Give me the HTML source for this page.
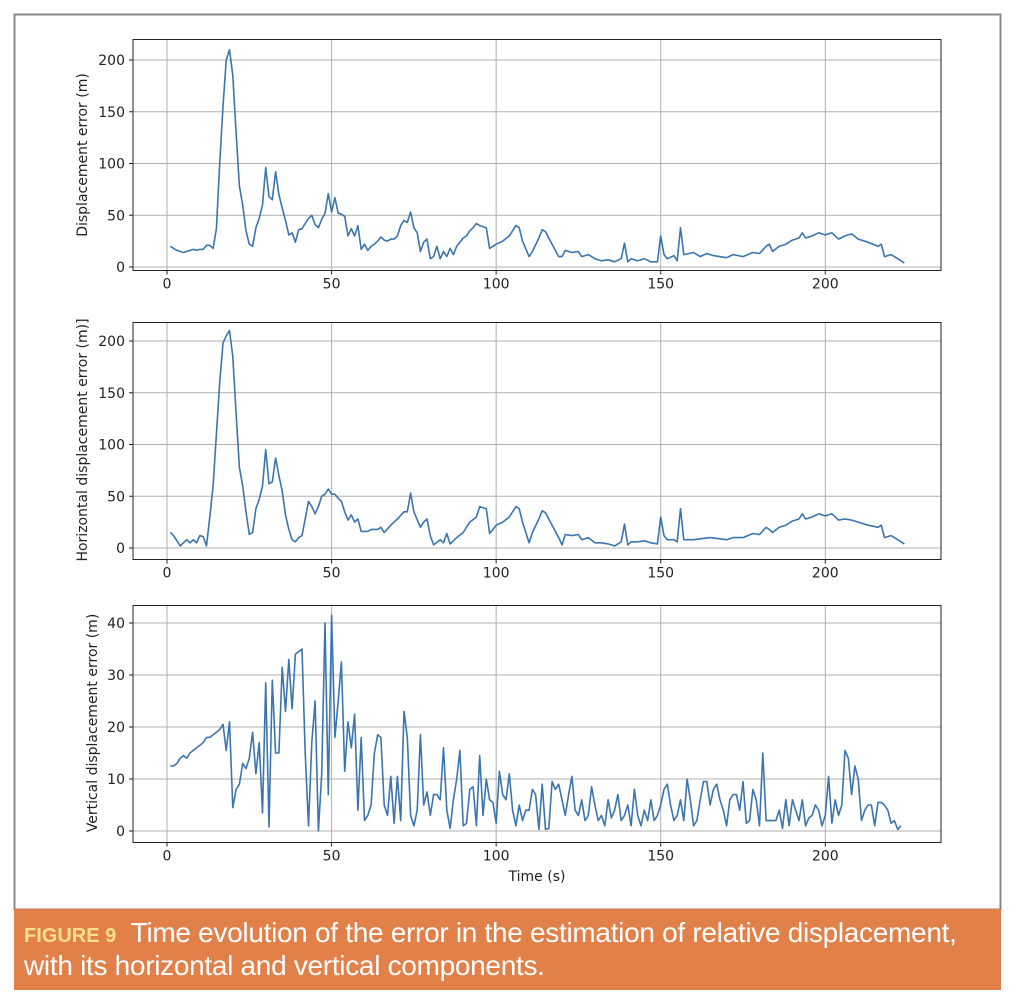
<!DOCTYPE html>
<html><head><meta charset="utf-8"><style>
html,body{margin:0;padding:0;background:#fff;width:1020px;height:1002px;overflow:hidden}
svg{position:absolute;left:0;top:0}
.cap{position:absolute;left:14px;top:909px;width:987px;height:81px;background:#e2804a;color:#fff;font-family:"Liberation Sans Narrow","Liberation Sans",sans-serif;}
.cap div{position:absolute;left:10px;white-space:nowrap;font-size:28px;transform-origin:0 0;transform:scaleX(1.0);letter-spacing:-0.3px}
.fig{color:#fbe08c;font-weight:bold;font-size:20px;letter-spacing:0}
</style></head><body>
<svg id="s" width="1020" height="1002" xmlns="http://www.w3.org/2000/svg" font-family="DejaVu Sans, sans-serif" font-size="14" fill="#222">
<rect x="14.5" y="14.5" width="986" height="895" fill="#fff" stroke="#888" stroke-width="2"/>
<g id="g"></g>
<text transform="translate(87,155) rotate(-90)" text-anchor="middle" font-size="14">Displacement error (m)</text>
<text transform="translate(87,440) rotate(-90)" text-anchor="middle" font-size="14">Horizontal displacement error (m)]</text>
<text transform="translate(97,723) rotate(-90)" text-anchor="middle" font-size="14">Vertical displacement error (m)</text>
<text x="537" y="881" text-anchor="middle" font-size="14">Time (s)</text>
</svg>
<div class="cap"><div style="top:8px"><span class="fig">FIGURE 9</span>&nbsp; Time evolution of the error in the estimation of relative displacement,</div><div style="top:41px">with its horizontal and vertical components.</div></div>
<script>
var s1=[[1,20],[2,18],[3,16],[4,15],[5,14],[6,15],[7,16],[8,17],[9,16],[10,17],[11,17],[12,21],[13,21],[14,18],[15,37],[16,100],[17,155],[18,200],[19,210],[20,185],[21,130],[22,78],[23,60],[24,35],[25,22],[26,20],[27,38],[28,47],[29,60],[30,96],[31,68],[32,65],[33,92],[34,70],[35,57],[36,45],[37,31],[38,33],[39,24],[40,36],[41,37],[42,42],[43,47],[44,50],[45,41],[46,38],[47,46],[48,52],[49,71],[50,53],[51,67],[52,52],[53,51],[54,49],[55,30],[56,37],[57,30],[58,40],[59,17],[60,22],[61,16],[62,20],[63,22],[64,25],[65,29],[66,26],[67,25],[68,27],[69,27],[70,30],[71,40],[72,45],[73,43],[74,53],[75,38],[76,33],[77,15],[78,24],[79,27],[80,8],[81,10],[82,20],[83,8],[84,15],[85,10],[86,18],[87,12],[88,20],[89,24],[90,28],[91,30],[92,35],[93,38],[94,42],[95,40],[97,38],[98,18],[100,22],[102,25],[104,30],[106,40],[107,38],[108,25],[110,10],[111,15],[113,28],[114,36],[115,34],[117,22],[119,10],[120,10],[121,16],[123,14],[125,15],[126,10],[128,12],[130,8],[132,6],[134,7],[136,5],[138,8],[139,23],[140,5],[141,8],[143,6],[145,8],[147,5],[149,5],[150,30],[151,12],[152,8],[154,11],[155,6],[156,38],[157,12],[160,14],[162,10],[164,13],[166,11],[170,9],[172,12],[175,10],[178,14],[180,13],[182,20],[183,22],[184,15],[186,20],[188,22],[190,26],[192,28],[193,33],[194,28],[196,30],[198,33],[200,31],[202,33],[204,27],[206,30],[208,32],[210,27],[213,24],[216,20],[217,22],[218,10],[220,12],[222,8],[224,4]];
var s2=[[1,15],[2,12],[3,7],[4,2],[5,5],[6,8],[7,5],[8,8],[9,5],[10,12],[11,11],[12,2],[13,30],[14,60],[15,110],[16,160],[17,198],[18,205],[19,210],[20,185],[21,130],[22,78],[23,60],[24,35],[25,13],[26,15],[27,38],[28,47],[29,60],[30,95],[31,62],[32,64],[33,87],[34,70],[35,55],[36,32],[37,18],[38,8],[39,6],[40,10],[41,12],[42,28],[43,45],[44,40],[45,33],[46,40],[47,50],[48,52],[49,57],[50,52],[51,52],[52,48],[53,45],[54,35],[55,27],[56,32],[57,25],[58,28],[59,16],[60,16],[61,16],[62,18],[64,18],[65,20],[66,15],[68,22],[70,28],[72,35],[73,35],[74,53],[75,35],[77,20],[78,25],[79,28],[80,12],[81,3],[83,8],[84,5],[85,14],[86,4],[88,10],[90,15],[92,25],[94,30],[95,40],[97,38],[98,14],[100,22],[102,25],[104,30],[106,40],[107,38],[108,25],[110,5],[111,15],[113,28],[114,36],[115,34],[117,22],[119,10],[120,3],[121,13],[123,12],[125,13],[126,8],[128,10],[130,5],[132,5],[134,4],[136,2],[138,6],[139,23],[140,3],[141,6],[143,6],[145,7],[147,5],[149,4],[150,30],[151,12],[152,8],[154,8],[155,6],[156,38],[157,8],[160,8],[165,10],[170,8],[172,10],[175,10],[178,14],[180,13],[182,20],[183,18],[184,15],[186,20],[188,22],[190,26],[192,28],[193,33],[194,28],[196,30],[198,33],[200,31],[202,33],[204,27],[206,28],[208,27],[210,25],[213,22],[216,20],[217,22],[218,10],[220,12],[222,8],[224,4]];
var v3=[12.5,12.5,13,14,14.5,14,15,15.5,16,16.5,17,18,18,18.5,19,19.5,20.5,15.5,21,4.5,8,9,13,12,14,19,11,17,3.5,28.5,0.8,29,15,15,31.5,23,33,23.5,34,34.5,35,15,1,17,25,0,11,40,7,41.5,18,25,32.5,11.5,21,16,22.5,4,18,2,3,5,15,18.5,18,5,3,10.5,1.5,10.5,2,23,18,3,1,4,18.5,5,7.5,3,7,7,6,16,4,0.5,6,10,15.5,1,1.5,8,8.5,1,14.5,3,10,6,5.5,1.5,11.5,7,6,11,4,1,5,2,4,4,8,7,0.3,9,0.3,0.5,9.5,8,9,6,3,7,10.5,4,3,6,2,3,8.5,5,2,3,1,6,2.5,4,7,2,3,5,1,8,3,1,4,2,6,2,3,5,8,9,5,2,3,6,2,10,6,1,2,6,9.5,9.5,5,8,9,6,4,1,6,7,7,4,9.5,1.5,2,8,6,1,15,2,2,2,2,4,0.5,6,1,6,4,2,6,1,2.5,3,5,4,1,3,10.5,1.5,6,3,5,15.5,14,7,12.5,10,2,4,5,5,1,5.5,5.5,5,4,1.5,2,0.3,1];
var s3=v3.map(function(v,i){return [i+1,v]});
var X0=133,X1=941,px=3.2915,x0=167;
function X(t){return x0+t*px}
var g=document.getElementById('g'),h='';
function plot(top,bot,y0,yper,ticks,data){
 for(var t=0;t<=200;t+=50){var x=X(t);h+='<line x1="'+x+'" y1="'+top+'" x2="'+x+'" y2="'+bot+'" stroke="#b0b0b0" stroke-width="1"/>';
  h+='<line x1="'+x+'" y1="'+bot+'" x2="'+x+'" y2="'+(bot+4)+'" stroke="#222"/>';
  h+='<text x="'+x+'" y="'+(bot+18)+'" text-anchor="middle">'+t+'</text>';}
 ticks.forEach(function(v){var y=y0-v*yper;h+='<line x1="'+X0+'" y1="'+y+'" x2="'+X1+'" y2="'+y+'" stroke="#b0b0b0" stroke-width="1"/>';
  h+='<line x1="'+(X0-4)+'" y1="'+y+'" x2="'+X0+'" y2="'+y+'" stroke="#222"/>';
  h+='<text x="'+(X0-8)+'" y="'+(y+5)+'" text-anchor="end">'+v+'</text>';});
 var p=data.map(function(d){return X(d[0]).toFixed(1)+','+(y0-d[1]*yper).toFixed(1)}).join(' ');
 h+='<polyline points="'+p+'" fill="none" stroke="#3b75af" stroke-width="1.6" stroke-linejoin="round"/>';
 h+='<rect x="'+X0+'" y="'+top+'" width="'+(X1-X0)+'" height="'+(bot-top)+'" fill="none" stroke="#222" stroke-width="1"/>';
}
plot(39.5,270.5,267,1.035,[0,50,100,150,200],s1);
plot(322.5,559.5,548,1.035,[0,50,100,150,200],s2);
plot(605.5,842.5,831,5.2,[0,10,20,30,40],s3);
g.innerHTML=h;
</script>
</body></html>
